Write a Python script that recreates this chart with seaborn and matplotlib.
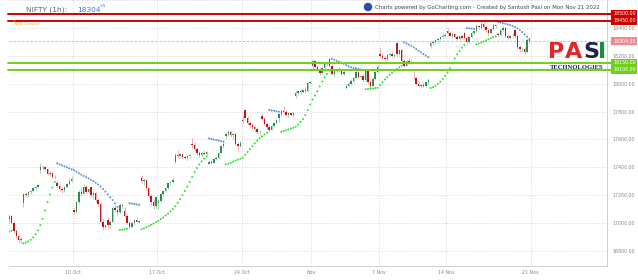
import numpy as np
import pandas as pd
import matplotlib
matplotlib.use("Agg")
import matplotlib.pyplot as plt
import matplotlib.transforms as mtransforms
from matplotlib.patches import Ellipse
import seaborn as sns

# ---------------- data (NIFTY 1h candles, Oct 3 - Nov 18 2022) ----------------
opens = [
    17030, 17050, 17000, 16945, 16905, 16875,
    17147, 17205, 17200, 17222, 17232, 17248, 17262,
    17379, 17405, 17400, 17388, 17352, 17360, 17330,
    17287, 17265, 17245, 17240, 17258, 17282, 17305,
    17094, 17080, 17150, 17225, 17210, 17262, 17225,
    17256, 17200, 17215, 17165, 17140, 17010, 16970,
    17025, 16985, 17010, 17105, 17095, 17080, 17130,
    17088, 17050, 17000, 16975, 17000, 17020, 17008,
    17322, 17300, 17310, 17250, 17195, 17150, 17120,
    17145, 17160, 17205, 17232, 17250, 17285, 17298,
    17438, 17490, 17480, 17495, 17475, 17470, 17480,
    17568, 17560, 17530, 17500, 17485, 17505, 17495,
    17423, 17440, 17432, 17462, 17470, 17505, 17550,
    17622, 17640, 17655, 17630, 17640, 17570, 17555,
    17736,
    17808, 17755, 17715, 17700, 17690, 17672, 17650,
    17771, 17750, 17710, 17690, 17670, 17695, 17720,
    17756, 17780, 17805, 17800, 17778, 17790, 17775,
    17910, 17935, 17945, 17940, 17955, 17945, 18005,
    18130, 18160, 18120, 18095, 18075, 18115, 18140,
    18177, 18130, 18070, 18090, 18105, 18095, 18070,
    17968, 17985, 18000, 18020, 18040, 18085, 18050,
    18054, 18025, 18090, 18010, 17985, 18030, 18080,
    18211, 18200, 18185, 18175, 18205, 18215, 18198,
    18289, 18215, 18240, 18165, 18130, 18160, 18150,
    18044, 18040, 18000, 17985, 17990, 17980, 18010,
    18273, 18290, 18300, 18310, 18322, 18335, 18345,
    18376, 18360, 18345, 18355, 18338, 18320, 18340,
    18363, 18330, 18300, 18335, 18360, 18378, 18410,
    18398, 18425, 18405, 18385, 18360, 18390, 18418,
    18358, 18350, 18385, 18400, 18340, 18325, 18345,
    18382, 18340, 18262, 18245, 18250, 18225, 18310,
]
highs = [
    17065, 17060, 17020, 16960, 16920, 16900,
    17215, 17225, 17230, 17240, 17255, 17270, 17287,
    17428, 17420, 17412, 17395, 17370, 17368, 17345,
    17300, 17280, 17260, 17265, 17290, 17320, 17337,
    17110, 17160, 17235, 17255, 17280, 17270, 17250,
    17262, 17230, 17225, 17180, 17150, 17030, 16995,
    17040, 17020, 17120, 17130, 17110, 17142, 17140,
    17112, 17065, 17015, 17010, 17030, 17035, 17025,
    17348, 17320, 17318, 17262, 17210, 17170, 17195,
    17170, 17215, 17240, 17260, 17290, 17305, 17328,
    17500, 17527, 17500, 17505, 17490, 17488, 17495,
    17607, 17578, 17545, 17515, 17510, 17525, 17520,
    17450, 17455, 17470, 17480, 17510, 17560, 17584,
    17655, 17670, 17665, 17648, 17645, 17580, 17590,
    17777,
    17811, 17770, 17735, 17718, 17705, 17690, 17670,
    17783, 17760, 17725, 17700, 17700, 17725, 17745,
    17790, 17815, 17838, 17812, 17795, 17800, 17795,
    17945, 17950, 17960, 17965, 17975, 18015, 18022,
    18175, 18172, 18135, 18110, 18125, 18150, 18160,
    18178, 18140, 18100, 18115, 18120, 18105, 18095,
    17995, 18010, 18030, 18050, 18106, 18095, 18065,
    18070, 18100, 18095, 18030, 18040, 18090, 18135,
    18255, 18215, 18200, 18210, 18225, 18230, 18215,
    18296, 18250, 18245, 18180, 18170, 18185, 18170,
    18103, 18050, 18015, 18000, 18010, 18020, 18040,
    18300, 18310, 18318, 18330, 18340, 18362, 18360,
    18399, 18375, 18360, 18365, 18350, 18345, 18348,
    18370, 18340, 18345, 18370, 18385, 18427, 18420,
    18442, 18440, 18420, 18400, 18395, 18425, 18430,
    18372, 18390, 18417, 18405, 18355, 18350, 18360,
    18395, 18350, 18280, 18265, 18262, 18325, 18318,
]
lows = [
    17000, 16990, 16930, 16890, 16855, 16860,
    17117, 17185, 17190, 17205, 17220, 17238, 17255,
    17360, 17380, 17370, 17345, 17335, 17320, 17315,
    17250, 17230, 17216, 17225, 17250, 17275, 17295,
    17064, 17075, 17140, 17195, 17205, 17215, 17218,
    17190, 17170, 17150, 17120, 17000, 16950, 16955,
    16960, 16965, 17005, 17080, 17060, 17075, 17110,
    17040, 16990, 16956, 16965, 16985, 17000, 17000,
    17290, 17270, 17240, 17180, 17130, 17099, 17110,
    17099, 17150, 17195, 17220, 17242, 17270, 17290,
    17434, 17470, 17465, 17468, 17460, 17455, 17470,
    17540, 17520, 17490, 17472, 17478, 17490, 17485,
    17421, 17425, 17428, 17450, 17460, 17500, 17540,
    17600, 17625, 17620, 17600, 17560, 17520, 17545,
    17718,
    17740, 17700, 17690, 17675, 17660, 17637, 17640,
    17740, 17700, 17675, 17654, 17665, 17690, 17710,
    17723, 17770, 17790, 17770, 17760, 17770, 17765,
    17899, 17920, 17925, 17930, 17935, 17940, 17995,
    18100, 18110, 18080, 18060, 18070, 18105, 18130,
    18120, 18060, 18048, 18080, 18085, 18060, 18060,
    17960, 17975, 17990, 18010, 18035, 18040, 18035,
    18010, 18015, 18000, 17969, 17980, 18025, 18075,
    18190, 18170, 18162, 18170, 18195, 18190, 18185,
    18200, 18205, 18150, 18117, 18125, 18140, 18140,
    18030, 17990, 17975, 17969, 17975, 17975, 18000,
    18254, 18275, 18285, 18295, 18310, 18325, 18335,
    18350, 18340, 18325, 18330, 18311, 18315, 18322,
    18320, 18282, 18295, 18325, 18350, 18370, 18395,
    18390, 18395, 18370, 18344, 18355, 18385, 18400,
    18340, 18345, 18375, 18330, 18312, 18318, 18330,
    18330, 18250, 18225, 18230, 18210, 18220, 18295,
]
closes = [
    17050, 17000, 16945, 16905, 16875, 16887,
    17205, 17200, 17222, 17232, 17248, 17262, 17274,
    17405, 17400, 17388, 17352, 17360, 17330, 17331,
    17265, 17245, 17240, 17258, 17282, 17305, 17314,
    17080, 17150, 17225, 17210, 17262, 17225, 17241,
    17200, 17215, 17165, 17140, 17010, 16970, 16983,
    16985, 17010, 17105, 17095, 17080, 17130, 17124,
    17050, 17000, 16975, 17000, 17020, 17008, 17014,
    17300, 17310, 17250, 17195, 17150, 17120, 17186,
    17160, 17205, 17232, 17250, 17285, 17298, 17311,
    17490, 17480, 17495, 17475, 17470, 17480, 17486,
    17560, 17530, 17500, 17485, 17505, 17495, 17512,
    17440, 17432, 17462, 17470, 17505, 17550, 17564,
    17640, 17655, 17630, 17640, 17570, 17555, 17576,
    17731,
    17755, 17715, 17700, 17690, 17672, 17650, 17656,
    17750, 17710, 17690, 17670, 17695, 17720, 17737,
    17780, 17805, 17800, 17778, 17790, 17775, 17787,
    17935, 17945, 17940, 17955, 17945, 18005, 18012,
    18160, 18120, 18095, 18075, 18115, 18140, 18145,
    18130, 18070, 18090, 18105, 18095, 18070, 18083,
    17985, 18000, 18020, 18040, 18085, 18050, 18053,
    18025, 18090, 18010, 17985, 18030, 18080, 18117,
    18200, 18185, 18175, 18205, 18215, 18198, 18203,
    18215, 18240, 18165, 18130, 18160, 18150, 18157,
    18040, 18000, 17985, 17990, 17980, 18010, 18028,
    18290, 18300, 18310, 18322, 18335, 18345, 18350,
    18360, 18345, 18355, 18338, 18320, 18340, 18329,
    18330, 18300, 18335, 18360, 18378, 18410, 18403,
    18425, 18405, 18385, 18360, 18390, 18418, 18410,
    18350, 18385, 18400, 18340, 18325, 18345, 18343,
    18340, 18262, 18245, 18250, 18225, 18310, 18304.55,
]
# Parabolic SAR (None = no dot visible)
psar = [
    16938, 16945, None, None, None, None,
    16855, 16860, 16868, 16880, 16897, 16920, 16948, 16985, 17030, 17090, 17150, 17205, 17255, 17295,
    17428, 17421, 17414, 17407, 17400, 17393, 17386, 17379, 17368, 17357, 17347, 17338, 17329,
    17320, 17311, 17302, 17290, 17277, 17262, 17244, 17226, 17206, 17186, 17165, 17142, 17116,
    16950, 16952, 16956, 16960,
    17142, 17140, 17137, 17134, 17131,
    16956, 16962, 16970, 16978, 16987, 16996, 17006, 17016, 17028, 17040, 17054, 17068, 17084,
    17100, 17120, 17145, 17172, 17200, 17230, 17262, 17295, 17330, 17365, 17395, 17420, 17442,
    17462, 17478,
    17607, 17603, 17599, 17595, 17591, 17588, 17585,
    17421, 17426, 17432, 17440, 17448, 17455, 17462, 17470, 17490, 17510, 17530, 17552, 17572,
    17592, 17608, 17622, 17636, 17648,
    17811, 17808, 17805, 17802, 17799,
    17654, 17660, 17666, 17672, 17678, 17684, 17690, 17705, 17725, 17745, 17775, 17810, 17850,
    17885, 17915, 17945, 17980, 18015, 18045, 18070, 18095,
    18178, 18171, 18164, 18157, 18150, 18143, 18132, 18124, 18117, 18112, 18110, 18106, 18102, 18098,
    17960, 17962, 17964, 17966, 17968, 17970, 17990, 18010, 18030, 18048, 18064, 18079, 18093,
    18106, 18118, 18128,
    18296, 18288, 18280, 18271, 18260, 18248, 18236, 18224, 18212, 18201, 18190,
    17969, 17975, 17985, 17998, 18014, 18034, 18056, 18080, 18110, 18145, 18180, 18210, 18235,
    18258, 18278,
    18399, 18397, 18395, 18393,
    18282, 18288, 18294, 18302, 18310, 18318, 18326, 18334, 18340,
    18442, 18438, 18434, 18430, 18425, 18420, 18414, 18406, 18396, 18384, 18370, 18354, 18337, 18320,
]
tick_labels = ["10 Oct", "17 Oct", "24 Oct", "Nov", "7 Nov", "14 Nov", "21 Nov"]
tick_candle = [27, 62, 97, 126, 154, 182, 217]   # first candle of each labelled day
resistance = [18500, 18450]
support = [18150, 18100]
last_price = 18304.55

# ---------------- figure ----------------
sns.set_style("white")
plt.rcParams["font.family"] = ["DejaVu Sans"]

W, H = 638, 280
fig = plt.figure(figsize=(W / 100, H / 100), dpi=100)
ax = fig.add_axes([9 / W, 14 / H, (607 - 9) / W, 266 / H])

n = len(closes)
x = np.arange(n)
o = np.array(opens, float); h = np.array(highs, float)
l = np.array(lows, float); c = np.array(closes, float)
up = c >= o

# grid
for yv in range(16800, 18601, 200):
    ax.axhline(yv, color="#c8c8c8", lw=0.6, ls=(0, (1, 2)), zorder=0)
for xv in tick_candle:
    ax.axvline(xv - 0.5, color="#c8c8c8", lw=0.6, ls=(0, (1, 2)), zorder=0)

# candles
ax.vlines(x[up], l[up], h[up], color="#8fd3a6", lw=0.6, zorder=2)
ax.vlines(x[~up], l[~up], h[~up], color="#f0a0a0", lw=0.6, zorder=2)
body_lo = np.minimum(o, c)
body_h = np.maximum(np.abs(c - o), 2.0)
ax.bar(x[up], body_h[up], bottom=body_lo[up], width=0.6, color="#2e8a58", lw=0, zorder=3)
ax.bar(x[~up], body_h[~up], bottom=body_lo[~up], width=0.6, color="#c0141b", lw=0, zorder=3)

# Parabolic SAR dots
sar_df = pd.DataFrame({"x": x, "sar": pd.array(psar, dtype="Float64"), "close": c}).dropna()
sar_df["sar"] = sar_df["sar"].astype(float)
sar_df["side"] = np.where(sar_df["sar"] > sar_df["close"], "above", "below")
sns.scatterplot(data=sar_df, x="x", y="sar", hue="side",
                palette={"above": "#5b8fd6", "below": "#2ee02e"},
                s=2.0, linewidth=0, legend=False, ax=ax, zorder=4)

ax.set_xlim(0, 248.2)
ax.set_ylim(16692, 18600)

# support / resistance lines
tr = mtransforms.blended_transform_factory(ax.transAxes, ax.transData)
for lv in resistance:
    ax.plot([-0.002, 1.01], [lv, lv], transform=tr, color="#d00000", lw=1.4, clip_on=False, zorder=5)
for lv in support:
    ax.plot([-0.002, 1.01], [lv, lv], transform=tr, color="#6fcf1f", lw=1.4, clip_on=False, zorder=5)
ax.plot([0, 1.01], [last_price, last_price], transform=tr, color="#f4a0a0", lw=0.6,
        ls=(0, (3, 2)), clip_on=False, zorder=1)

# axes styling
ax.set_xticks([t - 0.5 for t in tick_candle])
ax.set_xticklabels(tick_labels)
yt = list(range(16800, 18401, 200))
ax.set_yticks(yt)
ax.set_yticklabels([f"{v:.2f}" for v in yt])
ax.yaxis.tick_right()
ax.tick_params(axis="both", length=0, labelsize=3.4, labelcolor="#888888")
ax.tick_params(axis="y", pad=4)
ax.tick_params(axis="x", pad=3)
ax.set_xlabel(""); ax.set_ylabel("")
for s in ["left", "top"]:
    ax.spines[s].set_visible(False)
for s in ["bottom", "right"]:
    ax.spines[s].set_color("#d0d0d0")
    ax.spines[s].set_linewidth(0.7)

# price boxes on the right
def price_box(val, fc):
    ax.text(1.0 + 6 / 598, val, f"{val:.2f}", transform=tr, fontsize=3.4, color="white",
            va="center", ha="left", zorder=7, clip_on=False,
            bbox=dict(boxstyle="square,pad=0.35", fc=fc, ec="none"))

for lv in resistance:
    price_box(lv, "#d00000")
for lv in support:
    price_box(lv, "#6fcf1f")
price_box(last_price, "#f08a8a")

# header texts
fig.text(26 / W, 1 - 10 / H, "NIFTY (1h):", fontsize=5.4, color="#666666", va="center", ha="left")
fig.text(77 / W, 1 - 10 / H, "18304", fontsize=5.4, color="#3b7dd8", va="center", ha="left")
fig.text(100 / W, 1 - 6 / H, ".55", fontsize=3.0, color="#3b7dd8", va="center", ha="left")
fig.text(14 / W, 1 - 24 / H, "NSE Closed", fontsize=3.2, color="#f5a623", va="center", ha="left")
fig.text(12 / W, 1 - 21.5 / H, "\u2022", fontsize=3.5, color="#f5a623", va="center", ha="left")

fig.patches.append(Ellipse((368 / W, 1 - 7 / H), 8.5 / W, 8.5 / H, transform=fig.transFigure,
                           fc="#2d4fa0", ec="none"))
fig.text(375 / W, 1 - 7 / H,
         "Charts powered by GoCharting.com - Created by Santosh Pasi on Mon Nov 21 2022",
         fontsize=3.9, color="#444444", va="center", ha="left")

# PASI TECHNOLOGIES logo
logo_y = 1 - 52 / H
for ch, xp, col in [("P", 548, "#e02828"), ("A", 565, "#e02828"),
                    ("S", 583, "#1c2350"), ("I", 598, "#1e8a3c")]:
    fig.text(xp / W, logo_y, ch, fontsize=16, fontweight="bold", color=col,
             va="center", ha="left", family=["Liberation Sans Narrow", "DejaVu Sans"])
fig.text(577 / W, 1 - 67.5 / H, "TECHNOLOGIES", fontsize=4.8, fontweight="bold",
         color="#1c2350", va="center", ha="center", family=["Liberation Serif", "DejaVu Serif"])

fig.savefig("out.png", dpi=100)
